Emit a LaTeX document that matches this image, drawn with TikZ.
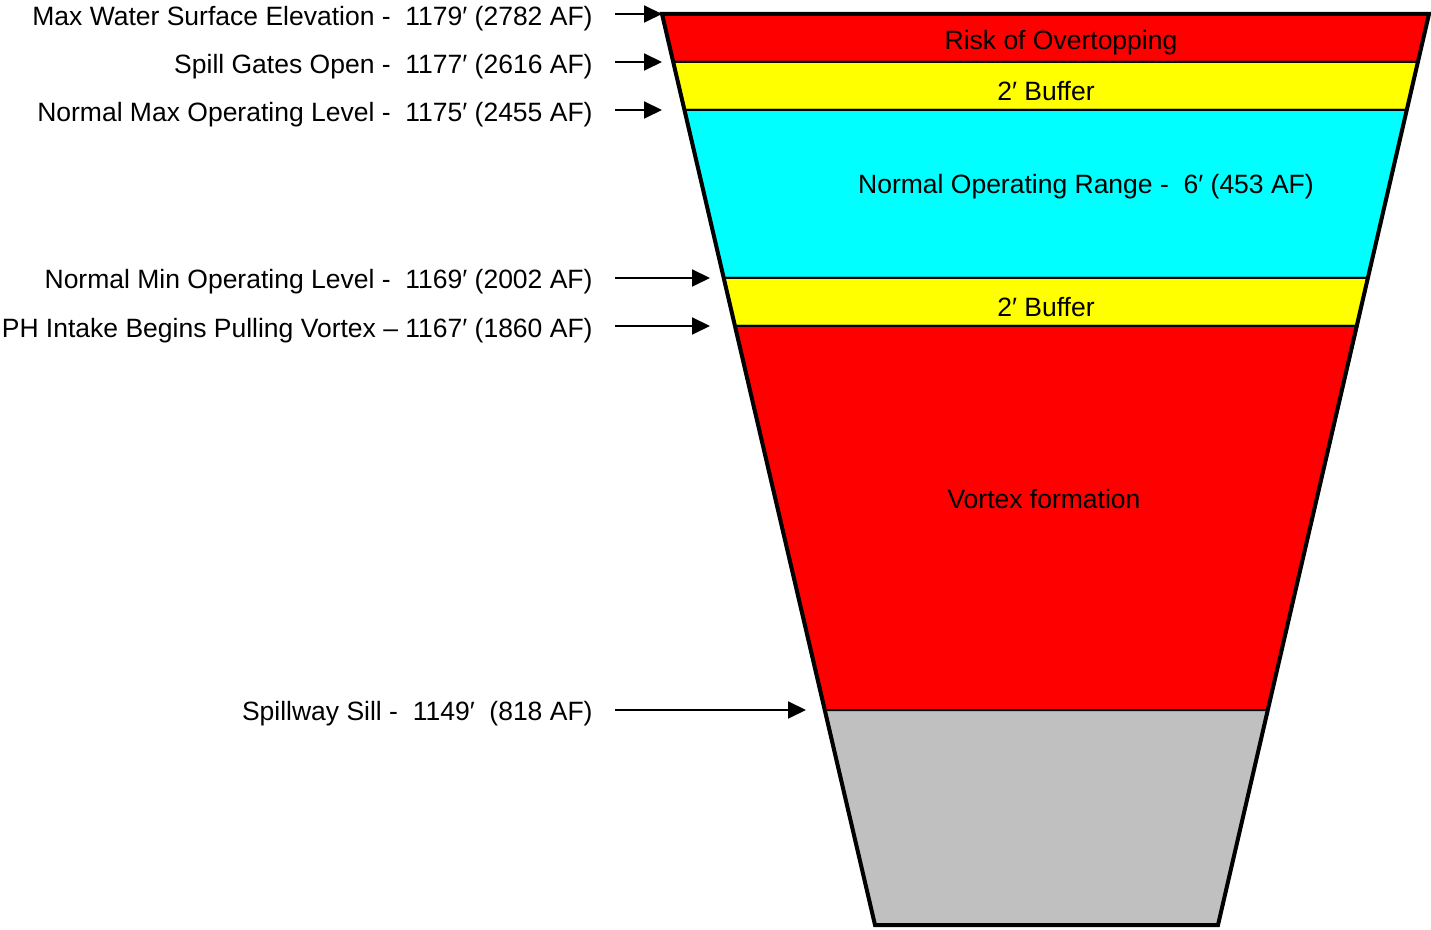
\documentclass[tikz,border=0pt]{standalone}
\usepackage{fontspec}
\setmainfont{Liberation Sans}
\usetikzlibrary{arrows.meta}
\definecolor{riskred}{RGB}{255,0,0}
\definecolor{bufyellow}{RGB}{255,255,0}
\definecolor{opcyan}{RGB}{0,255,255}
\definecolor{sillgray}{RGB}{192,192,192}

\begin{document}
\begin{tikzpicture}[x=0.5pt, y=-0.5pt, font=\fontsize{13.25}{16}\selectfont,
		lvl/.style={anchor=east, inner sep=0pt},
		band/.style={draw=black, line width=1pt},
		pointer/.style={-{Triangle[length=9pt, width=8.5pt]}, line width=1pt}]
		\useasboundingbox (0,0) rectangle (1431,930);
		% corners of the reservoir bands
		\foreach \i/\y/\l/\r in {0/14/662/1429, 1/62/673.5/1418, 2/110/685/1407,
		  3/278/724/1368, 4/326/735.5/1357.5, 5/710/825.5/1268, 6/925/875/1218}
		  {\coordinate (L\i) at (\l,\y); \coordinate (R\i) at (\r,\y);}
		\foreach \a/\b/\c in {0/1/riskred, 1/2/bufyellow, 2/3/opcyan,
		  3/4/bufyellow, 4/5/riskred, 5/6/sillgray}
		  \filldraw[band, fill=\c] (L\a) -- (R\a) -- (R\b) -- (L\b) -- cycle;
		\draw[line width=2pt, line join=miter] (L0) -- (R0) -- (R6) -- (L6) -- cycle;
		\node (risk) at (1061,43) {Risk of Overtopping};
		\node (bufa) at (1046,91) {2′ Buffer};
		\node (oprange) at (1086,187) {Normal Operating Range -\ \ 6′ (453 AF)};
		\node (bufb) at (1046,307) {2′ Buffer};
		\node (vortex) at (1044,499) {Vortex formation};
		% levels
		\node[lvl] (maxws) at (593,19) {Max Water Surface Elevation -\ \ 1179′ (2782 AF)};
		\node[lvl] (spill) at (593,67) {Spill Gates Open -\ \ 1177′ (2616 AF)};
		\node[lvl] (maxop) at (593,115) {Normal Max Operating Level -\ \ 1175′ (2455 AF)};
		\node[lvl] (minop) at (593,282) {Normal Min Operating Level -\ \ 1169′ (2002 AF)};
		\node[lvl] (intake) at (593,331) {PH Intake Begins Pulling Vortex – 1167′ (1860 AF)};
		\node[lvl] (sill) at (593,714) {Spillway Sill -\ \ 1149′\ \ (818 AF)};
		\foreach \n/\y/\x in {maxws/14/662, spill/62/662, maxop/110/662,
		  minop/278/710, intake/326/710, sill/710/806}
		  {\coordinate (\n-tail) at (615,\y); \coordinate (\n-tip) at (\x,\y);
		   \draw[pointer] (\n-tail) -- (\n-tip);}
	\end{tikzpicture}
\end{document}
